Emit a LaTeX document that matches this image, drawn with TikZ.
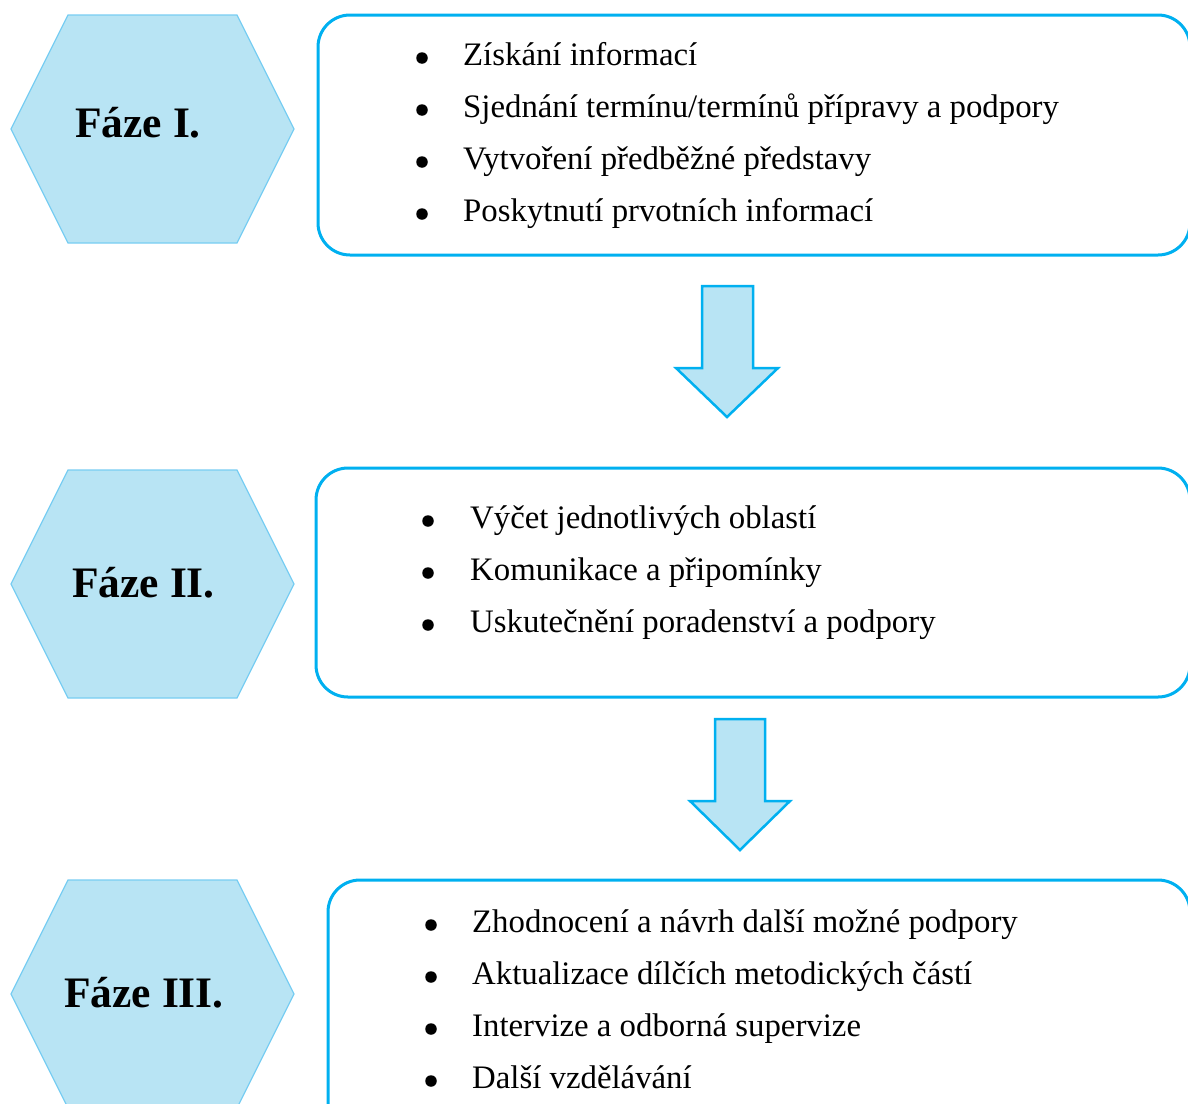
\documentclass[tikz,border=0pt]{standalone}
\usepackage{fontspec}
\setmainfont{Liberation Serif}
\usetikzlibrary{positioning}
\definecolor{lightcyan}{RGB}{184,228,244}
\definecolor{hexline}{RGB}{120,205,242}
\definecolor{boxblue}{RGB}{0,176,240}
\tikzset{
  hexfill/.style={fill=lightcyan,draw=hexline,line width=1.3pt},
  phasebox/.style={draw=boxblue,line width=3pt,rounded corners=32pt},
  blockarrow/.style={fill=lightcyan,draw=boxblue,line width=2.5pt,line join=miter},
  phase/.style={font=\fontsize{43.5}{50}\selectfont\bfseries,inner sep=0pt,anchor=base west},
  item/.style={font=\fontsize{32.8}{38}\selectfont,inner sep=0pt,anchor=base west},
  dot/.style={circle,fill=black,inner sep=0pt,minimum size=11.5pt}
}

\begin{document}
\begin{tikzpicture}[x=1pt,y=-1pt]
\useasboundingbox (0,0) rectangle (1188,1103);
% hexagons
\foreach \cy in {129,584,994}
  \draw [hexfill] (11,\cy) -- (68,\cy-114) -- (237,\cy-114) -- (294,\cy) -- (237,\cy+114) -- (68,\cy+114) -- cycle;
\node [phase] (faze1) at (75,137) {Fáze I.};
\node [phase] (faze2) at (72,597) {Fáze II.};
\node [phase] (faze3) at (64,1007) {Fáze III.};
% boxes
\draw [phasebox] (318,15) rectangle (1190,255);
\draw [phasebox] (316,468) rectangle (1190,697);
\draw [phasebox] (328,880) rectangle (1190,1140);
% arrows
\draw [blockarrow] (702,286) -- (753,286) -- (753,368) -- (778,368) -- (727,417) -- (676,368) -- (702,368) -- cycle;
\draw [blockarrow] (715,719) -- (765,719) -- (765,801) -- (790,801) -- (740,850) -- (690,801) -- (715,801) -- cycle;
% phase I
\foreach \t [count=\i] in {Získání informací, Sjednání termínu/termínů přípravy a podpory, Vytvoření předběžné představy, Poskytnutí prvotních informací}{
  \node [dot] (d1-\i) at (422,58+52*\i-52) {};
  \node [item] (t1-\i) at (463,65+52*\i-52) {\t};
}
% phase II
\foreach \t [count=\i] in {Výčet jednotlivých oblastí, Komunikace a připomínky, Uskutečnění poradenství a podpory}{
  \node [dot] (d2-\i) at (428,521+52*\i-52) {};
  \node [item] (t2-\i) at (470,528+52*\i-52) {\t};
}
% phase III
\foreach \t [count=\i] in {Zhodnocení a návrh další možné podpory, Aktualizace dílčích metodických částí, Intervize a odborná supervize, Další vzdělávání}{
  \node [dot] (d3-\i) at (431,925+52*\i-52) {};
  \node [item] (t3-\i) at (472,932+52*\i-52) {\t};
}
\end{tikzpicture}
\end{document}
